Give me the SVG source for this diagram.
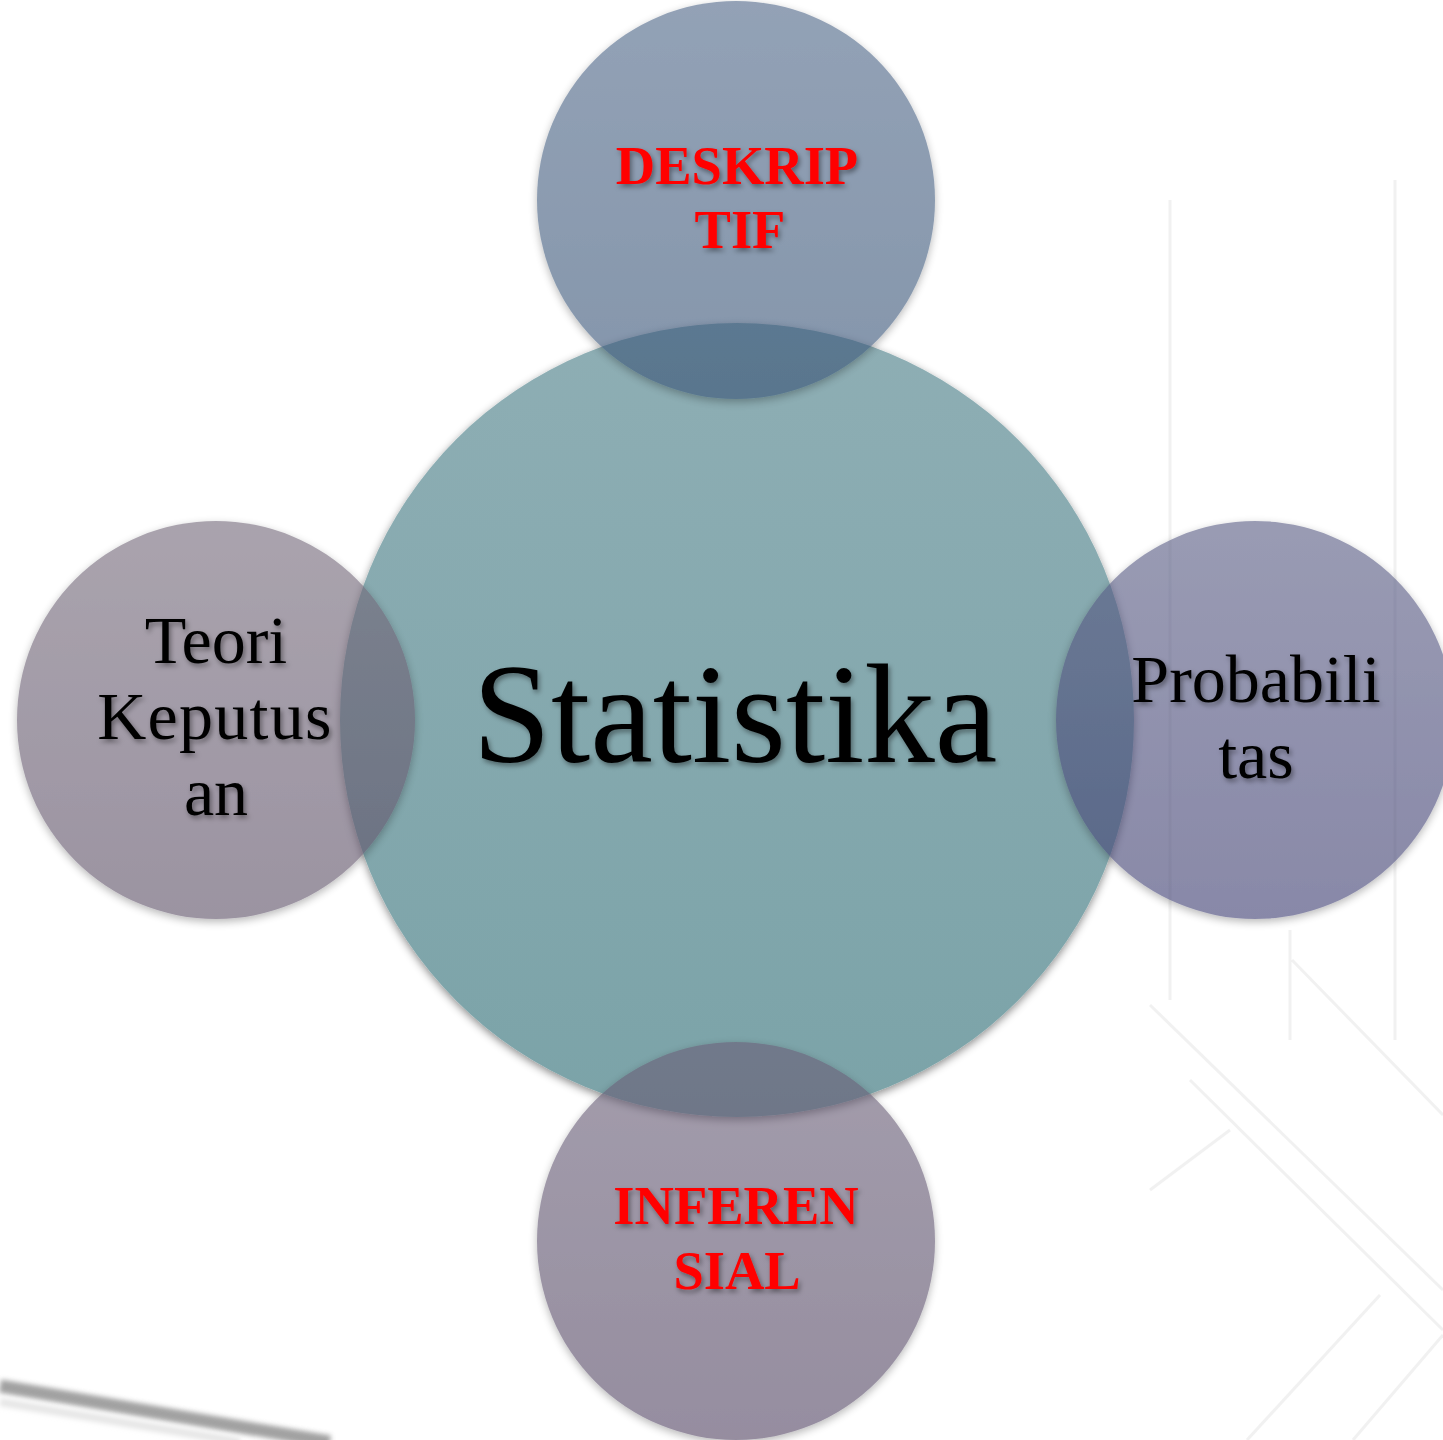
<svg xmlns="http://www.w3.org/2000/svg" width="1443" height="1440" viewBox="0 0 1443 1440">
<style>
.lbl{font-family:"Liberation Serif","Times New Roman",serif;text-anchor:middle;fill:#000;}
.red{font-weight:bold;fill:#ff0000;font-size:54.5px;}
.blk{font-size:68px;}
.big{font-size:141px;}
.node{opacity:0.62;}
.bgl{stroke:#d0d0d0;stroke-width:3;fill:none;opacity:0.3;}
</style>
<defs>
<linearGradient id="gTop" x1="0" y1="0" x2="0" y2="1"><stop offset="0" stop-color="#52698a"/><stop offset="1" stop-color="#3a5678"/></linearGradient>
<linearGradient id="gCen" x1="0" y1="0" x2="0" y2="1"><stop offset="0" stop-color="#8eaeb4"/><stop offset="1" stop-color="#7ba3a8"/></linearGradient>
<linearGradient id="gLeft" x1="0" y1="0" x2="0" y2="1"><stop offset="0" stop-color="#766c7c"/><stop offset="1" stop-color="#5f5269"/></linearGradient>
<linearGradient id="gRight" x1="0" y1="0" x2="0" y2="1"><stop offset="0" stop-color="#5c5f86"/><stop offset="1" stop-color="#414173"/></linearGradient>
<linearGradient id="gBot" x1="0" y1="0" x2="0" y2="1"><stop offset="0" stop-color="#6b6179"/><stop offset="1" stop-color="#564966"/></linearGradient>
<filter id="sh" x="-10%" y="-10%" width="120%" height="125%"><feDropShadow dx="0" dy="3" stdDeviation="4" flood-color="#000" flood-opacity="0.45"/></filter>
<filter id="tsh" x="-10%" y="-20%" width="120%" height="150%"><feDropShadow dx="2" dy="3" stdDeviation="2.5" flood-color="#000" flood-opacity="0.4"/></filter>
<filter id="bl" x="-10%" y="-50%" width="120%" height="200%"><feGaussianBlur stdDeviation="2.5"/></filter>
</defs>
<rect width="1443" height="1440" fill="#ffffff"/>
<g id="background">
<path d="M0 1386 L330 1442" stroke="#8a8a8a" stroke-width="13" filter="url(#bl)" opacity="0.8"/>
<path d="M0 1402 L240 1442" stroke="#e6e6e6" stroke-width="8" filter="url(#bl)"/>
<path class="bgl" d="M1247 1440 L1380 1295"/>
<path class="bgl" d="M1353 1440 L1443 1335"/>
<path class="bgl" d="M1150 1005 L1443 1290"/>
<path class="bgl" d="M1190 1080 L1443 1330"/>
<path class="bgl" d="M1150 1190 L1230 1130"/>
<path class="bgl" d="M1292 960 L1443 1115"/>
<path class="bgl" d="M1170 200 L1170 1000" opacity="0.12"/>
<path class="bgl" d="M1395 180 L1395 1040" opacity="0.12"/>
<path class="bgl" d="M1290 930 L1290 1040" opacity="0.15"/>
</g>
<g id="connectors"/>
<g id="node-statistika">
<circle cx="737" cy="720" r="397" fill="url(#gCen)" filter="url(#sh)"/>
</g>
<g id="node-deskriptif">
<g class="node"><circle cx="736" cy="200" r="199" fill="url(#gTop)" filter="url(#sh)"/></g>
</g>
<g id="node-teori">
<g class="node"><circle cx="216" cy="720" r="199" fill="url(#gLeft)" filter="url(#sh)"/></g>
</g>
<g id="node-probabilitas">
<g class="node"><circle cx="1255" cy="720" r="199" fill="url(#gRight)" filter="url(#sh)"/></g>
</g>
<g id="node-inferensial">
<g class="node"><circle cx="736" cy="1241" r="199" fill="url(#gBot)" filter="url(#sh)"/></g>
</g>
<g id="labels" filter="url(#tsh)">
<text class="lbl big" x="735" y="762">Statistika</text>
<text class="lbl red" x="737" y="184">DESKRIP</text>
<text class="lbl red" x="740" y="248">TIF</text>
<text class="lbl red" x="736" y="1224">INFEREN</text>
<text class="lbl red" x="737" y="1289">SIAL</text>
<text class="lbl blk" x="216" y="663">Teori</text>
<text class="lbl blk" x="215" y="739" letter-spacing="1.3">Keputus</text>
<text class="lbl blk" x="216" y="815">an</text>
<text class="lbl blk" x="1256" y="702">Probabili</text>
<text class="lbl blk" x="1256" y="778">tas</text>
</g>
</svg>
